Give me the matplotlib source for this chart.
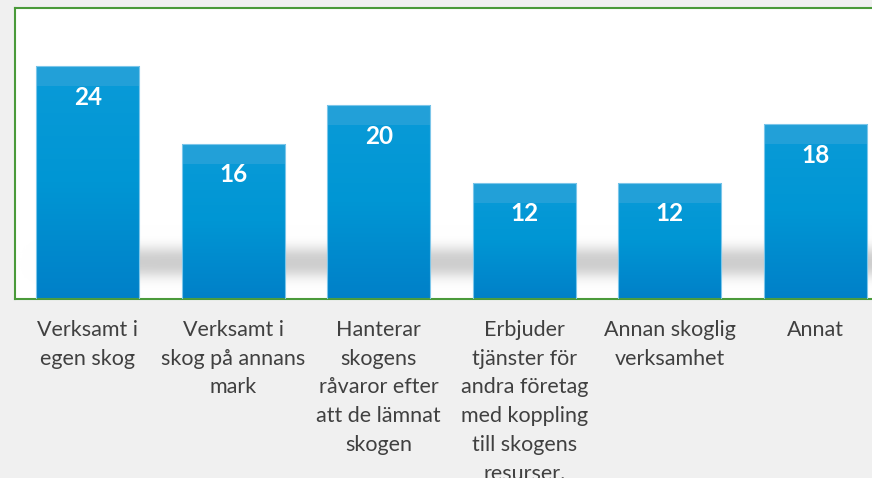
import numpy as np
from matplotlib import pyplot as plt
from matplotlib.colors import LinearSegmentedColormap

categories = [
    "Verksamt i\negen skog",
    "Verksamt i\nskog på annans\nmark",
    "Hanterar\nskogens\nråvaror efter\natt de lämnat\nskogen",
    "Erbjuder\ntjänster för\nandra företag\nmed koppling\ntill skogens\nresurser.",
    "Annan skoglig\nverksamhet",
    "Annat",
]
values = [24, 16, 20, 12, 12, 18]

W, H, DPI = 872, 478, 100
fig = plt.figure(figsize=(W / DPI, H / DPI), dpi=DPI, facecolor="#f0f0f0")
# plot area runs past the right edge of the picture, as in the reference
ax = fig.add_axes([15 / W, (H - 299) / H, 873 / W, 291 / H])
ax.set_facecolor("white")
ax.set_xlim(-0.5, len(values) - 0.5)
ax.set_ylim(0, 30)

# soft floor shadow behind the bars
xs = np.linspace(-0.5, len(values) - 0.5, 600)
ys = np.linspace(0, 10, 260)
X, Y = np.meshgrid(xs, ys)
shade = np.exp(-(np.abs(Y - 3.8) / 2.1) ** 2.5) * (1 / (1 + np.exp(-(X + 0.1) / 0.08)))
shade *= 1 - 0.5 * np.exp(-(Y / 1.0) ** 2)
gray = LinearSegmentedColormap.from_list("sh", [(1, 1, 1, 0), (0.62, 0.62, 0.62, 0.5)])
ax.imshow(shade, extent=(-0.5, len(values) - 0.5, 0, 10), origin="lower",
          cmap=gray, aspect="auto", zorder=1, interpolation="bilinear")

blue = LinearSegmentedColormap.from_list("bl", ["#0080c8", "#0096d4", "#0a9bd8"])
grad = np.linspace(0, 1, 256).reshape(-1, 1)
bar_w = 0.71
bars = ax.bar(range(len(values)), values, width=bar_w, facecolor="none",
              edgecolor="#7cc6ea", linewidth=0.8, zorder=3)
px = 30 / 291  # data units per pixel
for i, (b, v) in enumerate(zip(bars, values)):
    x0 = b.get_x()
    im = ax.imshow(grad, extent=(x0, x0 + bar_w, 0, v), origin="lower", cmap=blue,
                   aspect="auto", zorder=2, interpolation="bilinear")
    im.set_clip_path(b)
    ax.fill_between([x0, x0 + bar_w], v - 20 * px, v, color="#22a0d8", zorder=2.5, lw=0)
    ax.text(i, v - 31 * px, str(v), ha="center", va="center", color="white",
            fontsize=17.5, fontweight="bold", family="Lato", zorder=4)

ax.set_xticks(range(len(values)))
ax.set_xticklabels(categories, fontsize=15.5, family="Lato", color="#404040",
                   linespacing=1.55)
ax.tick_params(axis="x", length=0, pad=15)
ax.set_yticks([])
for s in ax.spines.values():
    s.set_color("#4a9a3a")
    s.set_linewidth(1.5)

fig.savefig("out.png", dpi=DPI, facecolor=fig.get_facecolor())
